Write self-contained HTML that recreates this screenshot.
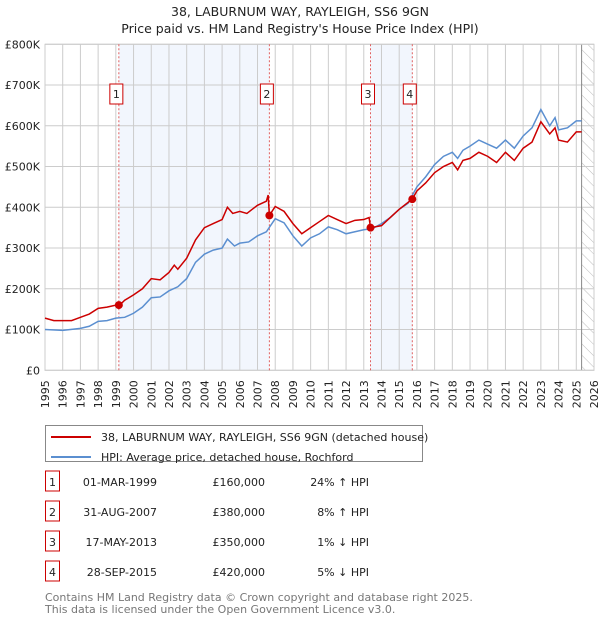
<!DOCTYPE html>
<html><head><meta charset="utf-8"><style>
body{margin:0;background:#fff;font-family:"Liberation Sans","DejaVu Sans",sans-serif}
svg text{font-family:"DejaVu Sans","Liberation Sans",sans-serif}
</style></head><body>
<svg id="c" width="600" height="620" xmlns="http://www.w3.org/2000/svg">
<text x="300" y="16" text-anchor="middle" font-size="12.5" fill="#222">38, LABURNUM WAY, RAYLEIGH, SS6 9GN</text>
<text x="300" y="33" text-anchor="middle" font-size="12.5" fill="#222">Price paid vs. HM Land Registry's House Price Index (HPI)</text>
<g id="plot"></g>
<g>
<rect x="45.5" y="425.5" width="377" height="36" fill="#fff" stroke="#888"/>
<line x1="51" y1="437" x2="91" y2="437" stroke="#cc0000" stroke-width="2"/>
<text x="101" y="441" font-size="11" fill="#222">38, LABURNUM WAY, RAYLEIGH, SS6 9GN (detached house)</text>
<line x1="51" y1="457" x2="91" y2="457" stroke="#5b8fd0" stroke-width="2"/>
<text x="101" y="461" font-size="11" fill="#222">HPI: Average price, detached house, Rochford</text>
</g>
<g id="tbl" font-size="11" fill="#222"></g>
<text x="45" y="601" font-size="11" fill="#777">Contains HM Land Registry data © Crown copyright and database right 2025.</text>
<text x="45" y="613" font-size="11" fill="#777">This data is licensed under the Open Government Licence v3.0.</text>
</svg>
<script>
const hpiYears=[1995,1996,1997,1997.5,1998,1998.5,1999,1999.5,2000,2000.5,2001,2001.5,2002,2002.5,2003,2003.5,2004,2004.5,2005,2005.3,2005.7,2006,2006.5,2007,2007.5,2008,2008.5,2009,2009.5,2010,2010.5,2011,2011.5,2012,2012.5,2013,2013.5,2014,2014.5,2015,2015.5,2016,2016.5,2017,2017.5,2018,2018.3,2018.6,2019,2019.5,2020,2020.5,2021,2021.5,2022,2022.5,2023,2023.5,2023.8,2024,2024.5,2025,2025.3];
const hpiValues=[100,98,103,108,120,122,128,130,140,155,178,180,195,205,225,265,285,295,300,322,305,312,315,330,340,372,362,330,305,325,335,352,345,335,340,345,348,360,375,395,410,450,475,505,525,535,520,540,550,565,555,545,565,545,575,595,640,600,620,590,595,612,612];
const propYears=[1995,1995.5,1996,1996.5,1997,1997.5,1998,1998.5,1999,1999.17,1999.5,2000,2000.5,2001,2001.5,2002,2002.3,2002.5,2003,2003.5,2004,2004.5,2005,2005.3,2005.6,2006,2006.4,2006.7,2007,2007.5,2007.6,2007.67,2008,2008.5,2009,2009.5,2010,2010.5,2011,2011.5,2012,2012.5,2013,2013.3,2013.38,2014,2014.5,2015,2015.74,2016,2016.5,2017,2017.5,2018,2018.3,2018.6,2019,2019.5,2020,2020.5,2021,2021.5,2022,2022.5,2023,2023.5,2023.8,2024,2024.5,2025,2025.3];
const propValues=[128,122,122,122,130,138,152,155,160,158,172,185,200,225,222,240,258,248,275,320,350,360,370,400,385,390,385,395,405,415,430,380,402,390,360,335,350,365,380,370,360,368,370,375,350,355,375,395,420,440,460,485,500,510,492,515,520,535,525,510,535,515,545,560,610,580,595,565,560,585,585];
const saleLabels=["1","2","3","4"];
const saleYears=[1999.17,2007.67,2013.38,2015.74];
const saleValues=[160,380,350,420];
const saleDates=["01-MAR-1999","31-AUG-2007","17-MAY-2013","28-SEP-2015"];
const salePrices=["£160,000","£380,000","£350,000","£420,000"];
const saleDiffs=["24% ↑ HPI","8% ↑ HPI","1% ↓ HPI","5% ↓ HPI"];
const yTicks=[0,100,200,300,400,500,600,700,800];
const yTickLabels=["£0","£100K","£200K","£300K","£400K","£500K","£600K","£700K","£800K"];
const NS="http://www.w3.org/2000/svg";
const X0=45,X1=594,Y0=370.3,Y1=44.3;
const xs=y=>X0+(y-1995)*(X1-X0)/31;
const ys=v=>Y0-(v)*(Y0-Y1)/800;
const g=document.getElementById('plot');
function mk(t,a,p){const e=document.createElementNS(NS,t);for(const k in a)e.setAttribute(k,a[k]);(p||g).appendChild(e);return e;}
for(const [a,b] of [[0,1],[2,3]]){const r=mk('rect',{x:xs(saleYears[a]),y:Y1,width:xs(saleYears[b])-xs(saleYears[a]),height:Y0-Y1,fill:'#f2f6fd'});

}
const hx=xs(2025.3);
const defs=mk('defs',{});
const pat=mk('pattern',{id:'h',width:8,height:8,patternUnits:'userSpaceOnUse',patternTransform:'rotate(-45)'},defs);
mk('line',{x1:0,y1:0,x2:0,y2:8,stroke:'#bbb','stroke-width':1},pat);
const hr=mk('rect',{x:hx,y:Y1,width:X1-hx,height:Y0-Y1,fill:'url(#h)'});


for(let y=1995;y<=2026;y++){mk('line',{x1:xs(y),x2:xs(y),y1:Y1,y2:Y0,stroke:'#ccc','stroke-width':1});
const t=mk('text',{x:0,y:0,transform:`translate(${xs(y)+4},${Y0+38}) rotate(-90)`,'font-size':11,fill:'#222'});t.textContent=y;

}
yTicks.forEach((v,i)=>{mk('line',{x1:X0,x2:X1,y1:ys(v),y2:ys(v),stroke:'#ccc','stroke-width':1});
const t=mk('text',{x:40,y:ys(v)+4,'text-anchor':'end','font-size':11,fill:'#222'});t.textContent=yTickLabels[i];

});
mk('line',{x1:hx,x2:hx,y1:Y1,y2:Y0,stroke:'#888','stroke-width':1});
mk('rect',{x:X0,y:Y1,width:X1-X0,height:Y0-Y1,fill:'none',stroke:'#ccc'});
saleYears.forEach(s=>{mk('line',{x1:xs(s),x2:xs(s),y1:Y1,y2:Y0,stroke:'#e06060','stroke-width':1,'stroke-dasharray':'2,2'});});
function line(xa,va,col,name){const p=mk('polyline',{points:xa.map((x,i)=>xs(x)+','+ys(va[i])).join(' '),fill:'none',stroke:col,'stroke-width':1.5});

}
line(hpiYears,hpiValues,'#5b8fd0','hpi-line');
line(propYears,propValues,'#cc0000','property-line');
saleYears.forEach((s,i)=>{const c=mk('circle',{cx:xs(s),cy:ys(saleValues[i]),r:4,fill:'#cc0000'});


const bx=xs(s)-9;
mk('rect',{x:bx,y:84,width:13,height:20,fill:'#fff',stroke:'#cc0000'});
const t=mk('text',{x:bx+6.5,y:98,'text-anchor':'middle','font-size':11,fill:'#222'});t.textContent=saleLabels[i];

});
const tb=document.getElementById('tbl');
saleLabels.forEach((l,i)=>{const y=483+i*30;
mk('rect',{x:45.5,y:y-12,width:14,height:20,fill:'#fff',stroke:'#cc0000'},tb);
const cells=[[52.5,l,'middle','row-number'],[157,saleDates[i],'end','row-date'],[265,salePrices[i],'end','row-price'],[369,saleDiffs[i],'end','row-hpi-diff']];
cells.forEach(([x,s,a,n])=>{const t=mk('text',{x:x,y:y+3,'text-anchor':a},tb);t.textContent=s;

});});
</script>
</body></html>
